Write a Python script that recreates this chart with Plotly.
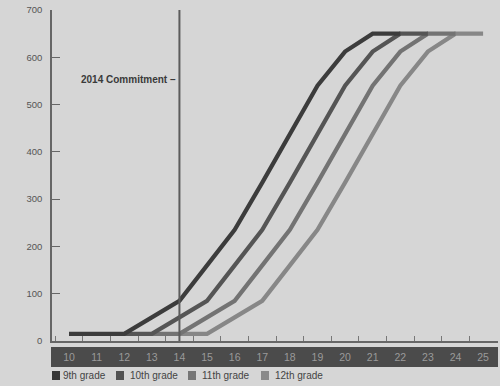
import plotly.graph_objects as go

# ---- data ----
categories = list(range(10, 26))
tick_labels = [str(c) for c in categories]
grade9 = [15, 15, 15, 50, 85, 160, 235, 335, 437, 540, 612, 650, 650, None, None, None]
grade10 = [None, None, 15, 15, 50, 85, 160, 235, 335, 437, 540, 612, 650, 650, None, None]
grade11 = [None, None, None, 15, 15, 50, 85, 160, 235, 335, 437, 540, 612, 650, 650, None]
grade12 = [None, None, None, None, 15, 15, 50, 85, 160, 235, 335, 437, 540, 612, 650, 650]
series_names = ["9th grade", "10th grade", "11th grade", "12th grade"]
series_colors = ["#3c3c3c", "#555555", "#737373", "#878787"]
legend_colors = ["#353535", "#525252", "#767676", "#8a8a8a"]
y_ticks = [0, 100, 200, 300, 400, 500, 600, 700]
commitment_x = 14
commitment_label = "2014 Commitment –"
commitment_label_y = 552

W, H = 500, 386
ML, MR, MT, MB = 52, 2, 10, 45
PW, PH = W - ML - MR, H - MT - MB
BG = "#d6d6d6"


def px2x(px):
    return (px - ML) / PW


def py2y(py):
    return (H - MB - py) / PH


fig = go.Figure()
all_series = [grade9, grade10, grade11, grade12]
# draw lightest first so darker lines are on top
for vals, name, col in reversed(list(zip(all_series, series_names, series_colors))):
    fig.add_trace(go.Scatter(
        x=categories, y=vals, mode="lines", name=name,
        line=dict(color=col, width=4.2), connectgaps=False, showlegend=False,
        hoverinfo="skip",
    ))

shapes = []
annotations = []

# vertical commitment line
shapes.append(dict(type="line", xref="x", yref="paper", x0=commitment_x, x1=commitment_x,
                   y0=0, y1=1, line=dict(color="#5c5c5c", width=2), layer="above"))
annotations.append(dict(x=commitment_x, y=commitment_label_y, xref="x", yref="y",
                        xanchor="right", yanchor="middle", xshift=-1, showarrow=False,
                        text="<b>" + commitment_label + "</b>",
                        font=dict(family="Liberation Sans, Arial", size=10, color="#3a3a3a")))

# dark band for x labels
shapes.append(dict(type="rect", xref="paper", yref="paper",
                   x0=px2x(51), x1=px2x(498), y0=py2y(367), y1=py2y(347),
                   fillcolor="#4b4b4b", line=dict(width=0), layer="below"))

# manual legend
leg_sq = [52, 116, 188, 261]
leg_tx = [61, 128, 200, 273]
for name, col, sx, tx in zip(series_names, legend_colors, leg_sq, leg_tx):
    shapes.append(dict(type="rect", xref="paper", yref="paper",
                       x0=px2x(sx), x1=px2x(sx + 8), y0=py2y(380), y1=py2y(371),
                       fillcolor=col, line=dict(width=0)))
    annotations.append(dict(x=px2x(tx), y=py2y(375.5), xref="paper", yref="paper",
                            xanchor="left", yanchor="middle", showarrow=False, text=name,
                            font=dict(family="Liberation Sans, Arial", size=10, color="#444444")))

minor_vals = [c + 0.5 for c in categories[:-1]] + [9.5]

fig.update_layout(
    width=W, height=H, autosize=False,
    margin=dict(l=ML, r=MR, t=MT, b=MB, pad=0),
    paper_bgcolor=BG, plot_bgcolor=BG,
    showlegend=False,
    shapes=shapes, annotations=annotations,
    xaxis=dict(
        range=[9.384, 25.54], tickmode="array", tickvals=categories, ticktext=tick_labels,
        ticks="", showgrid=False, zeroline=False,
        showline=True, linecolor="#666666", linewidth=1.5,
        tickfont=dict(family="Liberation Sans, Arial", size=10.5, color="#9a9a9a"),
        ticklabelstandoff=6,
        minor=dict(tickmode="array", tickvals=minor_vals, ticks="inside", ticklen=5,
                   tickcolor="#777777", tickwidth=1, showgrid=False),
    ),
    yaxis=dict(
        range=[0, 700], tickmode="array", tickvals=y_ticks,
        ticks="inside", ticklen=8, tickcolor="#666666", tickwidth=1.2,
        showgrid=False, zeroline=False,
        showline=True, linecolor="#666666", linewidth=1.5,
        tickfont=dict(family="Liberation Sans, Arial", size=9.5, color="#555555"),
        ticklabelstandoff=6,
    ),
)

fig.write_html("out.html")
